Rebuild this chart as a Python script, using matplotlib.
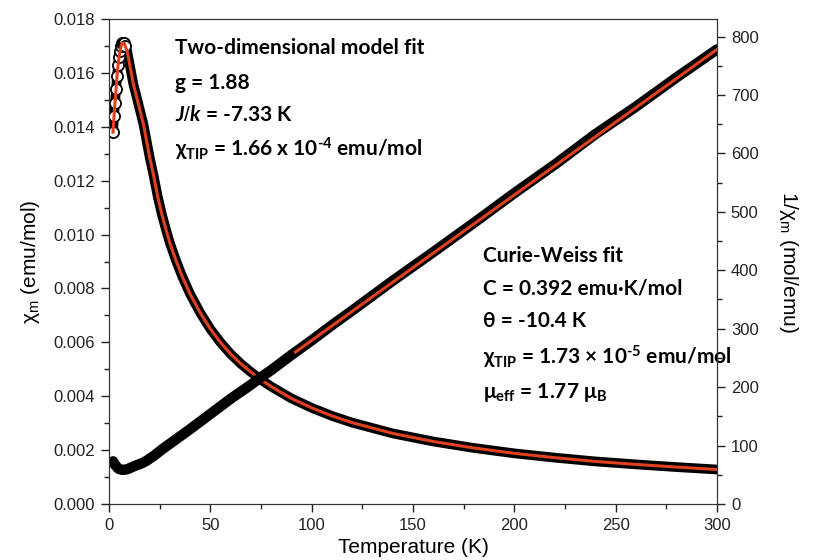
import numpy as np
import matplotlib
matplotlib.use('Agg')
import matplotlib.pyplot as plt

plt.rcParams['font.family'] = ['Liberation Sans', 'DejaVu Sans']
plt.rcParams['mathtext.fontset'] = 'custom'
plt.rcParams['mathtext.rm'] = 'Liberation Sans'
plt.rcParams['mathtext.bf'] = 'Lato:bold'
plt.rcParams['mathtext.it'] = 'Lato:bold:italic'

# temperature grid (K)
temp = [2, 2.5, 3, 3.5, 4, 4.5, 5, 5.5, 6, 6.5, 7, 7.5, 8, 9, 10, 11, 12, 13,
        14, 15, 16, 17, 18, 19, 20, 22, 24, 26, 28, 30, 33, 36, 40, 45, 50, 55,
        60, 65, 70, 75, 80, 90, 100, 110, 120, 140, 160, 180, 200, 220, 240,
        260, 280, 300]
# chi_m (emu/mol), left axis
chi = [0.0138, 0.0144, 0.0149, 0.0154, 0.0159, 0.0163, 0.0166, 0.0168, 0.0170,
       0.0171, 0.0171, 0.0171, 0.0170, 0.0168, 0.0164, 0.0160, 0.0156, 0.0153,
       0.0150, 0.0147, 0.0144, 0.0141, 0.0137, 0.0133, 0.0129, 0.0122,
       0.01143, 0.01078, 0.01022, 0.0097, 0.00905, 0.00847, 0.0078, 0.0071,
       0.0065, 0.0060, 0.00557, 0.00521, 0.0049, 0.00461, 0.00436, 0.00392,
       0.00357, 0.00327, 0.00302, 0.00262, 0.00232, 0.00208, 0.00188, 0.00172,
       0.00158, 0.00147, 0.00137, 0.00128]
# 1/chi_m (mol/emu), right axis
inv_chi = [73, 70, 67, 65, 63, 61, 60, 59.5, 59, 58.5, 58.5, 58.5, 59, 59.5,
           61, 62.5, 64, 65.5, 67, 68, 69.5, 71, 73, 75, 77.5, 82, 87.5, 93,
           98, 103, 110.5, 118, 128, 141, 154, 167, 180, 192, 204, 217, 229,
           255, 280, 306, 331, 382, 431, 481, 532, 581, 633, 680, 730, 778]
# Curie-Weiss fit line (right axis)
cw_temp = [92, 300]
cw_fit = [260, 778]

red = '#e0401e'

fig = plt.figure(figsize=(8.23, 5.6), dpi=100)
ax = fig.add_axes([0.1324, 0.1, 0.7388, 0.866])
ax2 = ax.twinx()

# chi_m data + 2D model fit
ax.plot(temp, chi, color='black', lw=7, solid_capstyle='round',
        solid_joinstyle='round', zorder=2)
low = [i for i, t in enumerate(temp) if t <= 8]
ax.plot([temp[i] for i in low], [chi[i] for i in low], 'o', ms=8,
        mfc='white', mec='black', mew=1.3, zorder=3)
ax.plot(temp, chi, color=red, lw=2.2, zorder=4)

# 1/chi_m data + Curie-Weiss fit
ax2.plot(temp, inv_chi, color='black', lw=7.5, solid_capstyle='round',
         solid_joinstyle='round', zorder=2)
ax2.plot(cw_temp, cw_fit, color=red, lw=2.2, zorder=4)

ax.set_xlim(0, 300)
ax.set_ylim(0, 0.018)
ax2.set_ylim(0, 830)

ax.set_xticks(np.arange(0, 301, 50))
ax.set_xticks(np.arange(0, 301, 25), minor=True)
ax.set_yticks(np.arange(0, 0.0181, 0.002))
ax.set_yticks(np.arange(0, 0.0181, 0.001), minor=True)
ax.set_yticklabels(['%.3f' % v for v in np.arange(0, 0.0181, 0.002)])
ax2.set_yticks(np.arange(0, 801, 100))
ax2.set_yticks(np.arange(0, 801, 50), minor=True)

for a in (ax, ax2):
    a.tick_params(which='major', direction='out', length=6, width=1,
                  labelsize=12, colors='#222222', pad=4)
    a.tick_params(which='minor', direction='out', length=3.5, width=1,
                  colors='#222222')
    for s in a.spines.values():
        s.set_color('#333333')

ax.set_xlabel('Temperature (K)', fontsize=15, labelpad=4)
ax.set_ylabel('\u03c7$_{\\mathrm{m}}$ (emu/mol)', fontsize=15, labelpad=8)
ax2.set_ylabel('1/\u03c7$_{\\mathrm{m}}$ (mol/emu)', fontsize=15,
               rotation=-90, labelpad=30)

tk = dict(transform=ax.transAxes, fontsize=15, fontweight='bold',
          family=['Lato', 'DejaVu Sans'], va='center', ha='left')

def ax_frac(px, py):
    return (px - 109) / 608.0, (504 - py) / 485.0

lines1 = ['Two-dimensional model fit',
          'g = 1.88',
          r'$\mathit{J/k}$ = -7.33 K',
          '\u03c7$_{\\mathbf{TIP}}$ = 1.66 x 10$^{\\mathbf{\u2010 4}}$ emu/mol']
ys1 = [48, 83, 115, 149]
for s, y in zip(lines1, ys1):
    ax.text(*ax_frac(175, y), s, **tk)

lines2 = ['Curie-Weiss fit',
          'C = 0.392 emu\u00b7K/mol',
          '\u03b8 = -10.4 K',
          '\u03c7$_{\\mathbf{TIP}}$ = 1.73 \u00d7 10$^{\\mathbf{\u2010 5}}$ emu/mol',
          '\u03bc$_{\\mathbf{eff}}$ = 1.77 \u03bc$_{\\mathbf{B}}$']
ys2 = [256, 288, 321, 357, 392]
for s, y in zip(lines2, ys2):
    ax.text(*ax_frac(483, y), s, **tk)

fig.savefig('out.png', dpi=100)
